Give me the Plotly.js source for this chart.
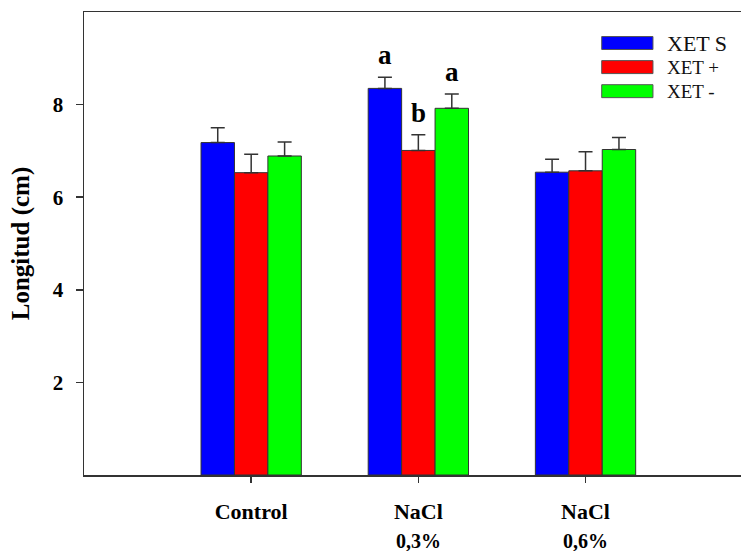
<!DOCTYPE html>
<html>
<head>
<meta charset="utf-8">
<script src="https://cdn.plot.ly/plotly-3.0.1.min.js"></script>
<style>html,body{margin:0;padding:0;background:#fff;}#chart{width:741px;height:551px;}</style>
</head>
<body>
<div id="chart"></div>
<script>
// ---- data ----
const categories = ["Control", "NaCl", "NaCl"];
const subLabels = ["", "0,3%", "0,6%"];
const seriesNames = ["XET S", "XET +", "XET -"];
const seriesColors = ["#0000ff", "#ff0000", "#00ff00"];
const xetS = [7.18, 8.35, 6.54];
const xetPlus = [6.53, 7.01, 6.57];
const xetMinus = [6.89, 7.92, 7.03];
const errS = [0.32, 0.24, 0.28];
const errPlus = [0.40, 0.34, 0.41];
const errMinus = [0.30, 0.31, 0.26];
const lettersS = ["", "a", ""];
const lettersPlus = ["", "b", ""];
const lettersMinus = ["", "a", ""];
const yTicks = [2, 4, 6, 8];

const values = [xetS, xetPlus, xetMinus];
const errors = [errS, errPlus, errMinus];
const letters = [lettersS, lettersPlus, lettersMinus];
const xIdx = categories.map((c, i) => i);

const serif = "Liberation Serif";
const axisColor = "#333333";

const traces = seriesNames.map((name, s) => ({
  type: "bar",
  name: name,
  x: xIdx,
  y: values[s],
  marker: {color: seriesColors[s], line: {color: "#333333", width: 1}},
  error_y: {type: "data", array: errors[s], symmetric: false, arrayminus: errors[s].map(() => 0),
            color: "#333333", thickness: 1.5, width: 7},
  showlegend: false
}));

const annotations = [];
const nS = seriesNames.length;
const groupW = 0.6;
letters.forEach((arr, s) => {
  arr.forEach((t, i) => {
    if (!t) return;
    const off = -groupW / 2 + groupW / nS * (s + 0.5);
    annotations.push({
      x: xIdx[i] + off, y: values[s][i] + errors[s][i], xref: "x", yref: "y",
      text: "<b>" + t + "</b>", showarrow: false, yanchor: "bottom", yshift: 5,
      font: {family: serif, size: 27, color: "#000"}
    });
  });
});
subLabels.forEach((t, i) => {
  if (!t) return;
  annotations.push({
    x: xIdx[i], y: 0, xref: "x", yref: "paper", text: "<b>" + t + "</b>",
    showarrow: false, yanchor: "top", yshift: -53,
    font: {family: serif, size: 20, color: "#000"}
  });
});

// manual legend (wide swatches)
const shapes = [];
const legX0 = 0.788, legX1 = 0.866, legTop = 0.933, legStep = 0.052, halfH = 0.014;
seriesNames.forEach((name, s) => {
  const yc = legTop - s * legStep;
  shapes.push({type: "rect", xref: "paper", yref: "paper", x0: legX0, x1: legX1,
    y0: yc - halfH, y1: yc + halfH, fillcolor: seriesColors[s], line: {color: "#555", width: 1}});
  annotations.push({x: 0.884, y: yc, xref: "paper", yref: "paper", text: name,
    showarrow: false, xanchor: "left", yanchor: "middle",
    font: {family: serif, size: s === 0 ? 22 : 19, color: "#111"}});
});

const layout = {
  width: 741, height: 551,
  margin: {l: 84, r: 0, t: 12, b: 76},
  paper_bgcolor: "#fff", plot_bgcolor: "#fff",
  barmode: "group", bargap: 0.4, bargroupgap: 0,
  xaxis: {
    range: [-1, 2.93], tickvals: xIdx, ticktext: categories.map(c => "<b>" + c + "</b>"),
    ticks: "outside", ticklen: 6, tickwidth: 1.5, tickcolor: axisColor, ticklabelstandoff: 10,
    showline: true, linecolor: axisColor, linewidth: 1.5, mirror: true,
    showgrid: false, zeroline: false,
    tickfont: {family: serif, size: 22, color: "#000"}
  },
  yaxis: {
    range: [0, 10], tickvals: yTicks, ticktext: yTicks.map(v => "<b>" + v + "</b>"),
    ticks: "outside", ticklen: 7, tickwidth: 1.5, tickcolor: axisColor,
    ticklabelstandoff: 8,
    showline: true, linecolor: axisColor, linewidth: 1.5, mirror: false,
    showgrid: false, zeroline: false,
    tickfont: {family: serif, size: 21, color: "#000"},
    title: {text: "<b>Longitud (cm)</b>", font: {family: serif, size: 25, color: "#000"}, standoff: 16}
  },
  shapes: shapes,
  annotations: annotations
};

Plotly.newPlot("chart", traces, layout, {displayModeBar: false, staticPlot: true});
</script>
</body>
</html>
